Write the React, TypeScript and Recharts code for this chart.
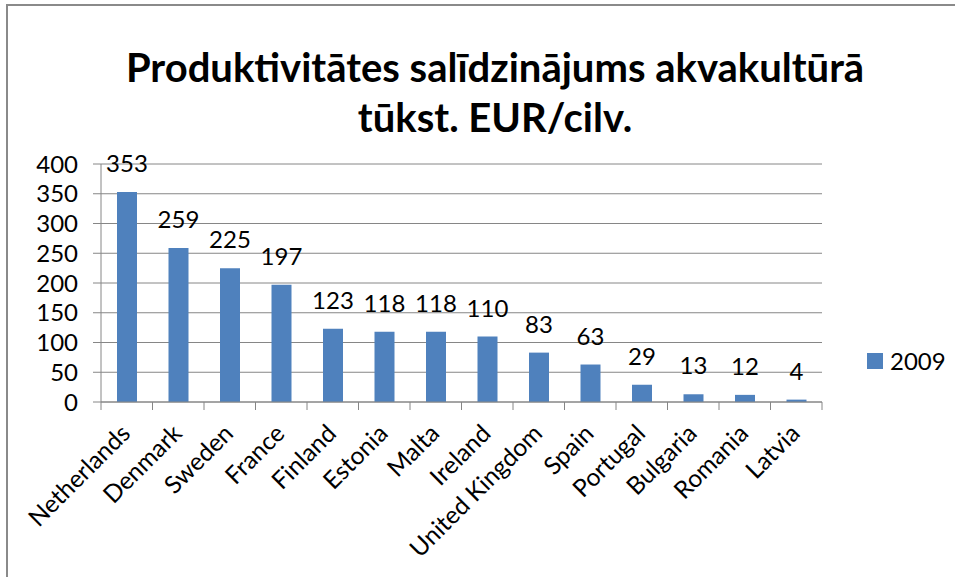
import React from 'react';
import { BarChart, Bar, XAxis, YAxis, CartesianGrid, LabelList } from 'recharts';

const countries = ['Netherlands', 'Denmark', 'Sweden', 'France', 'Finland', 'Estonia', 'Malta', 'Ireland', 'United Kingdom', 'Spain', 'Portugal', 'Bulgaria', 'Romania', 'Latvia'];
const values2009 = [353, 259, 225, 197, 123, 118, 118, 110, 83, 63, 29, 13, 12, 4];
const yTicks = [0, 50, 100, 150, 200, 250, 300, 350, 400];
const seriesName = '2009';
const titleLines = ['Produktivitātes salīdzinājums akvakultūrā', 'tūkst. EUR/cilv.'];

const data = countries.map((c, i) => ({ country: c, v: values2009[i] }));

const FONT = 'Lato, "Open Sans", sans-serif';
const GRID = '#868686';
const BAR = '#4F81BD';
const W = 955;
const H = 577;
const M = { top: 164, right: 133, bottom: 0, left: 0 };
const YW = 101;
const PLOT_W = W - M.left - M.right - YW;
const BAND = PLOT_W / countries.length;

const XTick = (props: any) => {
  const { x, y, payload, index } = props;
  const ay = y - 10;
  return (
    <g>
      <line x1={x - BAND / 2} y1={ay} x2={x - BAND / 2} y2={ay + 8} stroke={GRID} />
      {index === countries.length - 1 && (
        <line x1={x + BAND / 2} y1={ay} x2={x + BAND / 2} y2={ay + 8} stroke={GRID} />
      )}
      <text
        x={x + 5}
        y={ay + 33}
        textAnchor="end"
        fontFamily={FONT}
        fontSize={24.5}
        fill="#000"
        transform={`rotate(-45, ${x + 5}, ${ay + 33})`}
      >
        {payload.value}
      </text>
    </g>
  );
};

export default function App() {
  return (
    <div style={{ position: 'absolute', left: 0, top: 0, width: W, height: H, background: '#fff', overflow: 'hidden' }}>
      <div style={{ position: 'absolute', left: 6, top: 4, width: W + 10, height: H + 10, borderLeft: '2px solid #8a8a8a', borderTop: '2px solid #8a8a8a' }} />
      <div style={{ position: 'absolute', left: 0, top: 42, width: 990, textAlign: 'center', fontFamily: FONT, fontWeight: 700, fontSize: 40, lineHeight: '50px', color: '#000' }}>
        {titleLines.map((t) => (
          <div key={t}>{t}</div>
        ))}
      </div>
      <div style={{ position: 'absolute', left: 867, top: 346, display: 'flex', alignItems: 'center', fontFamily: FONT, fontSize: 24, color: '#000' }}>
        <div style={{ width: 16, height: 16, background: BAR, marginRight: 7 }} />
        <span>{seriesName}</span>
      </div>
      <div style={{ position: 'absolute', left: 0, top: 0 }}>
        <BarChart width={W} height={H} data={data} margin={M}>
          <CartesianGrid vertical={false} stroke={GRID} strokeWidth={1} />
          <XAxis
            dataKey="country"
            interval={0}
            height={H - 402}
            tickLine={false}
            tickSize={8}
            tickMargin={2}
            axisLine={{ stroke: GRID }}
            tick={<XTick />}
          />
          <YAxis
            domain={[0, 400]}
            ticks={yTicks}
            interval={0}
            width={YW}
            tickSize={8}
            tickMargin={15}
            tickLine={{ stroke: GRID }}
            axisLine={{ stroke: GRID }}
            tick={{ fontFamily: FONT, fontSize: 24, fill: '#000' }}
          />
          <Bar dataKey="v" fill={BAR} barSize={20} isAnimationActive={false}>
            <LabelList dataKey="v" position="top" offset={20} fontFamily={FONT} fontSize={24} fill="#000" />
          </Bar>
        </BarChart>
      </div>
    </div>
  );
}
